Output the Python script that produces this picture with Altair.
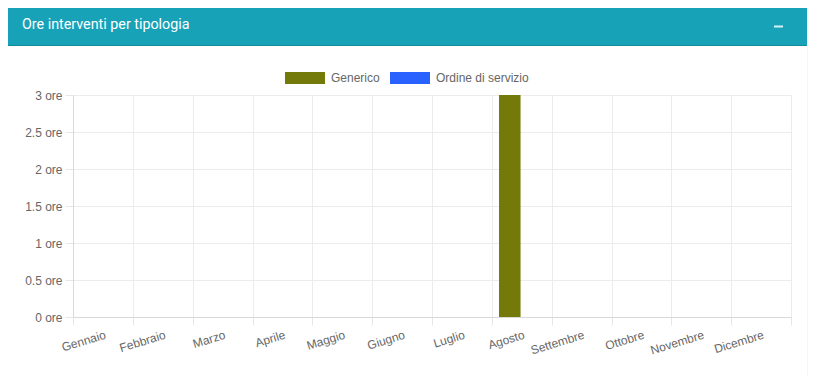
import altair as alt
import pandas as pd

months = ["Gennaio", "Febbraio", "Marzo", "Aprile", "Maggio", "Giugno",
          "Luglio", "Agosto", "Settembre", "Ottobre", "Novembre", "Dicembre"]
generico = [0, 0, 0, 0, 0, 0, 0, 3, 0, 0, 0, 0]
ordine = [0, 0, 0, 0, 0, 0, 0, 0, 0, 0, 0, 0]
series = ["Generico", "Ordine di servizio"]
colors = ["#737a09", "#2962ff"]
title_text = "Ore interventi per tipologia"
y_ticks = [0, 0.5, 1, 1.5, 2, 2.5, 3]

rows = []
for i, m in enumerate(months):
    rows.append({"mese": m, "serie": series[0], "ore": generico[i]})
    rows.append({"mese": m, "serie": series[1], "ore": ordine[i]})
df = pd.DataFrame(rows)

FONT = "Liberation Sans"
one = pd.DataFrame({"a": [0]})

edge = alt.Chart(one).mark_rect(color="#f4f6f9").encode(
    x=alt.value(734), x2=alt.value(736), y=alt.value(-90), y2=alt.value(290))

header = alt.Chart(one).mark_rect(color="#17a2b8").encode(
    x=alt.value(-67), x2=alt.value(734), y=alt.value(-89), y2=alt.value(-49))

header_line = alt.Chart(one).mark_rule(color="#138b9e", strokeWidth=1).encode(
    x=alt.value(-67), x2=alt.value(734), y=alt.value(-49.5))

title = alt.Chart(pd.DataFrame({"t": [title_text]})).mark_text(
    align="left", baseline="middle", color="white", font="Roboto", fontSize=14.3
).encode(text="t:N", x=alt.value(-51), y=alt.value(-70))

minus = alt.Chart(one).mark_rect(color="#d4f3f8").encode(
    x=alt.value(701), x2=alt.value(710), y=alt.value(-69.5), y2=alt.value(-67.5))

bars = alt.Chart(df).mark_bar().encode(
    x=alt.X("mese:N", sort=months,
            scale=alt.Scale(paddingInner=0, paddingOuter=0),
            axis=alt.Axis(title=None, labelAngle=-17, labelAlign="right",
                          labelBaseline="middle", labelPadding=9, labelOffset=2,
                          tickBand="extent", tickSize=8, tickColor="#e6e6e6",
                          gridColor="#ececec", grid=True, domainColor="#d9d9d9",
                          labelColor="#666666", labelFont=FONT, labelFontSize=12)),
    xOffset=alt.XOffset("serie:N", sort=series,
                        scale=alt.Scale(paddingInner=0.1, paddingOuter=0.3)),
    y=alt.Y("ore:Q", scale=alt.Scale(domain=[0, 3], nice=False),
            axis=alt.Axis(title=None, values=y_ticks,
                          labelExpr="datum.value + ' ore'",
                          tickSize=8, tickColor="#e6e6e6", labelPadding=3,
                          gridColor="#ececec", domainColor="#d9d9d9",
                          labelColor="#666666", labelFont=FONT, labelFontSize=12)),
    color=alt.Color("serie:N", sort=series,
                    scale=alt.Scale(domain=series, range=colors),
                    legend=alt.Legend(title=None, orient="none", direction="horizontal",
                                      legendX=212, legendY=-37,
                                      symbolType="M-1,-0.3H1V0.3H-1Z", symbolSize=1600,
                                      symbolStrokeWidth=0, symbolOpacity=1,
                                      labelColor="#666666", labelFont=FONT,
                                      labelFontSize=12, labelOffset=6,
                                      columnPadding=10)),
)

chart = alt.layer(edge, header, header_line, title, minus, bars).properties(
    width=718, height=222,
    background="white",
    padding={"left": 65, "top": 87, "right": 17, "bottom": 59},
    autosize=alt.AutoSizeParams(type="none"),
).configure_view(stroke=None)

chart.save("out.html", embed_options={"renderer": "svg", "actions": False})
